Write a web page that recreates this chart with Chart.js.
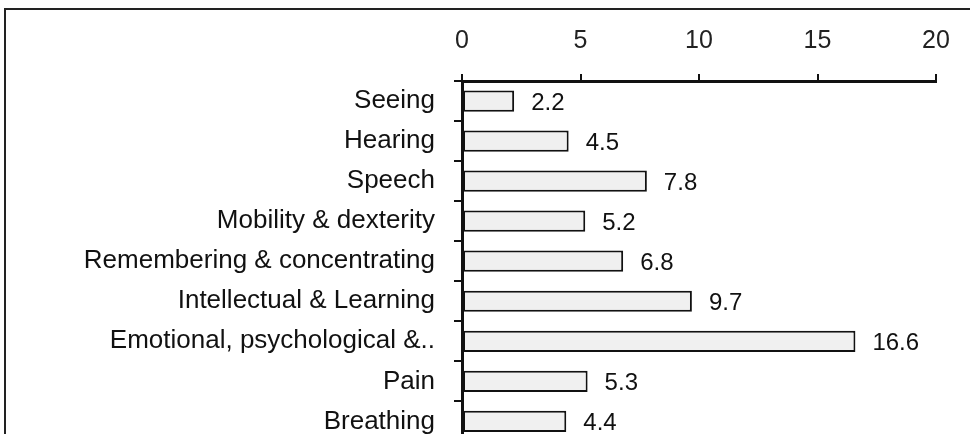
<!DOCTYPE html>
<html>
<head>
<meta charset="utf-8">
<title>Bar chart</title>
<script src="https://cdn.jsdelivr.net/npm/chart.js@4/dist/chart.umd.min.js"></script>
<style>
	html, body { margin: 0; padding: 0; background: #fff; overflow: hidden; width: 970px; height: 434px; }
	#frame { position: absolute; left: 4px; top: 8px; width: 1100px; height: 600px; border-left: 2px solid #222; border-top: 2px solid #222; }
	#bar-chart { position: absolute; left: 0; top: 0; }
</style>
</head>
<body>
<div id="frame"></div>
<canvas id="bar-chart" width="970" height="476"></canvas>
<script>

var categories = ["Seeing", "Hearing", "Speech", "Mobility & dexterity", "Remembering & concentrating",
	"Intellectual & Learning", "Emotional, psychological &..", "Pain", "Breathing"];
var values = [2.2, 4.5, 7.8, 5.2, 6.8, 9.7, 16.6, 5.3, 4.4];
var xTicks = [0, 5, 10, 15, 20];

/**
 * writes the value just right of every bar
 */
var valueLabels = {
	id : "valueLabels",
	afterDatasetsDraw : function(chart) {
		var c = chart.ctx;
		var meta = chart.getDatasetMeta(0);
		c.save();
		c.font = "24px 'Liberation Sans', Arial, sans-serif";
		c.fillStyle = "#111";
		c.textAlign = "left";
		c.textBaseline = "middle";
		for (var i = 0; i < meta.data.length; i++) {
			var bar = meta.data[i];
			c.fillText(values[i].toFixed(1), bar.x + 17, bar.y + 2);
		}
		c.restore();
	}
};

//get canvas
var ctx = document.getElementById("bar-chart");

var data = {
	labels : categories,
	datasets : [
		{
			data : values,
			backgroundColor : "#f0f0f0",
			borderColor : "#111",
			borderWidth : 2,
			borderSkipped : false,
			barPercentage : 0.53,
			categoryPercentage : 1
		}
	]
};

var options = {
	indexAxis : "y",
	responsive : false,
	animation : false,
	events : [],
	layout : {
		padding : { left : 0, right : 34, top : 0, bottom : 12 }
	},
	plugins : {
		legend : { display : false },
		title : { display : false },
		tooltip : { enabled : false }
	},
	scales : {
		x : {
			position : "top",
			min : 0,
			max : 20,
			afterBuildTicks : function(scale) {
				scale.ticks = xTicks.map(function(v) { return { value : v }; });
			},
			afterFit : function(scale) {
				scale.height = 81;
			},
			grid : {
				drawOnChartArea : false,
				tickLength : 7,
				lineWidth : 2,
				color : "#111"
			},
			border : {
				display : true,
				color : "#111",
				width : 3
			},
			ticks : {
				padding : 18,
				color : "#222",
				font : { family : "'Liberation Sans Narrow', 'Arial Narrow', 'Liberation Sans', sans-serif", size : 25 }
			}
		},
		y : {
			afterFit : function(scale) {
				scale.width = 462;
			},
			grid : {
				drawOnChartArea : false,
				offset : true,
				tickLength : 8,
				lineWidth : 2,
				color : "#111"
			},
			border : {
				display : true,
				color : "#111",
				width : 3
			},
			ticks : {
				padding : 19,
				color : "#111",
				autoSkip : false,
				font : { family : "'Liberation Sans', Arial, sans-serif", size : 26 }
			}
		}
	}
};

var chart = new Chart(ctx, {
	type : "bar",
	data : data,
	options : options,
	plugins : [valueLabels]
});

</script>
</body>
</html>
